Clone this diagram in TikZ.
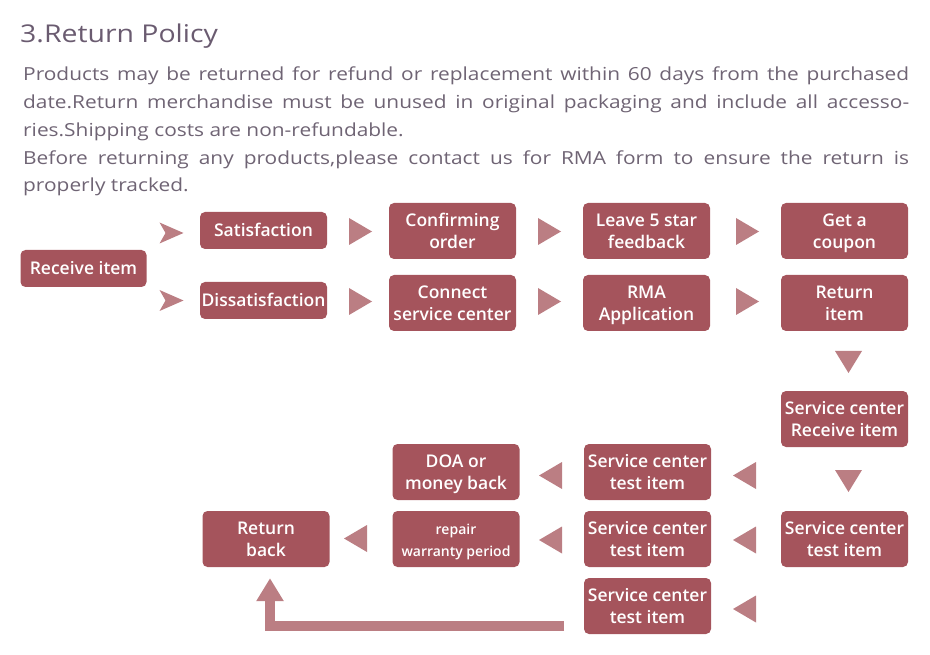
\documentclass[tikz,border=0pt]{standalone}
\usepackage{fontspec}
\usetikzlibrary{arrows.meta}
\setmainfont{Open Sans}
\IfFontExistsTF{Open Sans SemiBold}{\newfontfamily\boxfont{Open Sans SemiBold}}{%
 \IfFontExistsTF{Open Sans Semibold}{\newfontfamily\boxfont{Open Sans Semibold}}{%
  \newfontfamily\boxfont{Open Sans}[FakeBold=2.4]}}
\newfontfamily\widefont{Open Sans}[FakeStretch=1.16]
\definecolor{boxc}{HTML}{A5545C}
\definecolor{tric}{HTML}{BB7E83}
\definecolor{titc}{HTML}{6A5B70}
\definecolor{parc}{HTML}{6F6474}
\newcommand\lineA[1]{\raisebox{0pt}[12.4pt][0pt]{#1}}
\newcommand\twol[2]{\lineA{#1}\\\lineA{#2}}
\tikzset{
  stepbox/.style={fill=boxc, rounded corners=5pt, text=white, align=center,
    minimum width=127pt, minimum height=56pt, inner sep=0pt,
    font=\boxfont\fontsize{17.5}{22}\selectfont},
  onebox/.style={stepbox, minimum height=37pt},
  partext/.style={anchor=base west, inner sep=0pt, text=parc,
    font=\widefont\fontsize{18}{27}\selectfont},
  rtri/.pic={\fill[tric] (-11.5,-13.5) -- (11.5,0) -- (-11.5,13.5) -- cycle;},
  ltri/.pic={\fill[tric] (11.5,-13.5) -- (-11.5,0) -- (11.5,13.5) -- cycle;},
  dtri/.pic={\fill[tric] (-13.5,-11) -- (13.5,-11) -- (0,11) -- cycle;},
  chev/.pic={\fill[tric] (-12,-10.5) -- (12,0) -- (-12,10.5) -- (-6,0) -- cycle;},
  bigarrow/.style={draw=tric, line width=10pt, line join=miter,
    -{Triangle[width=26pt,length=23pt]}}
}
\begin{document}
\begin{tikzpicture}[x=1pt,y=-1pt]
\useasboundingbox (0,0) rectangle (930,655);
% title and text
\node[anchor=base west, inner sep=0pt, text=titc,
  font=\widefont\fontsize{24.5}{28}\selectfont] (title) at (20,43) {3.Return Policy};
\node[partext] (p1) at (23,81) {\makebox[886pt][s]{Products may be returned for refund or replacement within 60 days from the purchased}};
\node[partext] (p2) at (23,108.75) {\makebox[886pt][s]{date.Return merchandise must be unused in original packaging and include all accesso-}};
\node[partext] (p3) at (23,136.5) {ries.Shipping costs are non-refundable.};
\node[partext] (p4) at (23,164.25) {\makebox[886pt][s]{Before returning any products,please contact us for RMA form to ensure the return is}};
\node[partext] (p5) at (23,192) {properly tracked.};
% boxes
\node[onebox, minimum width=126pt] (recv) at (83.5,268.5) {\lineA{Receive item}};
\node[onebox] (sat) at (263.5,230.5) {\lineA{Satisfaction}};
\node[onebox] (dis) at (263.5,300.5) {\lineA{Dissatisfaction}};
\node[stepbox] (conf) at (452.5,231) {\twol{Confirming}{order}};
\node[stepbox] (conn) at (452.5,303) {\twol{Connect}{service center}};
\node[stepbox] (leave) at (646.5,231) {\twol{Leave 5 star}{feedback}};
\node[stepbox] (rma) at (646.5,303) {\twol{RMA}{Application}};
\node[stepbox] (coupon) at (844.5,231) {\twol{Get a}{coupon}};
\node[stepbox] (ret) at (844.5,303) {\twol{Return}{item}};
\node[stepbox] (scr) at (844.5,419) {\twol{Service center}{Receive item}};
\node[stepbox] (sct) at (844.5,539) {\twol{Service center}{test item}};
\node[stepbox] (sta) at (647.5,472) {\twol{Service center}{test item}};
\node[stepbox] (stb) at (647.5,539) {\twol{Service center}{test item}};
\node[stepbox] (stc) at (647.5,606) {\twol{Service center}{test item}};
\node[stepbox] (doa) at (456,472) {\twol{DOA or}{money back}};
\node[stepbox, font=\boxfont\fontsize{14}{22}\selectfont] (rep) at (456,539) {\twol{repair}{warranty period}};
\node[stepbox] (rb) at (266,539) {\twol{Return}{back}};
% arrows
\pic at (171.5,233) {chev};
\pic at (171.5,300.5) {chev};
\pic at (360.5,231.5) {rtri};
\pic at (549.5,231.5) {rtri};
\pic at (747.5,231.5) {rtri};
\pic at (360.5,301.5) {rtri};
\pic at (549.5,301.5) {rtri};
\pic at (747.5,301.5) {rtri};
\pic at (848.5,362) {dtri};
\pic at (848.5,481) {dtri};
\pic at (744.5,475.5) {ltri};
\pic at (744.5,540) {ltri};
\pic at (744.5,609) {ltri};
\pic at (550.5,475.5) {ltri};
\pic at (550.5,540) {ltri};
\pic at (355.5,538.5) {ltri};
\coordinate (lstart) at (564,626);
\draw[bigarrow] (lstart) -| ([xshift=4pt,yshift=-11pt]rb.south);
\end{tikzpicture}
\end{document}
